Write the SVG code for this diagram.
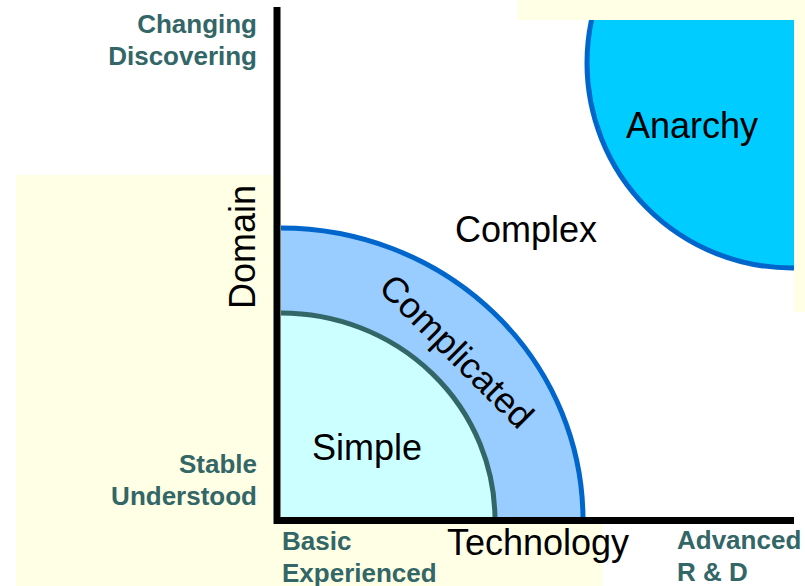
<svg xmlns="http://www.w3.org/2000/svg" width="805" height="586" viewBox="0 0 805 586">
<style>
.bg{fill:#FFFFE5}
.lbl{font-family:"Liberation Sans",Arial,sans-serif;font-weight:bold;font-size:26px;fill:#336666}
.big{font-family:"Liberation Sans",Arial,sans-serif;font-size:36px;fill:#000}
.axis{stroke:#000;stroke-width:7;fill:none}
</style>
<defs>
<clipPath id="plot"><rect x="281" y="20" width="513" height="500"/></clipPath>
</defs>
<rect width="805" height="586" fill="#fff"/>
<g id="background">
<rect class="bg" x="16" y="175" width="586" height="411"/>
<rect class="bg" x="518" y="0" width="287" height="312"/>
<rect x="281" y="20" width="513" height="500" fill="#fff"/>
</g>
<g id="anarchy">
<circle cx="792" cy="63" r="205" fill="#00CCFF" stroke="#0066CC" stroke-width="5" clip-path="url(#plot)"/>
<text class="big" x="692" y="138" text-anchor="middle">Anarchy</text>
</g>
<g id="complicated">
<ellipse cx="281" cy="520" rx="302" ry="292" fill="#99CCFF" stroke="#0066CC" stroke-width="5" clip-path="url(#plot)"/>
<text class="big" transform="translate(448,360) rotate(45)" text-anchor="middle">Complicated</text>
</g>
<g id="simple">
<ellipse cx="281" cy="520" rx="214" ry="207" fill="#CCFFFF" stroke="#336666" stroke-width="5" clip-path="url(#plot)"/>
<text class="big" x="367" y="460" text-anchor="middle">Simple</text>
</g>
<g id="complex">
<text class="big" x="526" y="242" text-anchor="middle">Complex</text>
</g>
<g id="axes">
<line class="axis" x1="277" y1="7" x2="277" y2="524"/>
<line class="axis" x1="274" y1="520.5" x2="794" y2="520.5"/>
</g>
<g id="axis-labels">
<text class="big" transform="translate(255,247) rotate(-90)" text-anchor="middle">Domain</text>
<text class="big" x="538" y="555" text-anchor="middle">Technology</text>
<text class="lbl" x="257" y="33" text-anchor="end">Changing</text>
<text class="lbl" x="257" y="65" text-anchor="end">Discovering</text>
<text class="lbl" x="257" y="473" text-anchor="end">Stable</text>
<text class="lbl" x="257" y="505" text-anchor="end">Understood</text>
<text class="lbl" x="282" y="550">Basic</text>
<text class="lbl" x="282" y="582">Experienced</text>
<text class="lbl" x="677" y="549">Advanced</text>
<text class="lbl" x="677" y="581">R &amp; D</text>
</g>
</svg>
